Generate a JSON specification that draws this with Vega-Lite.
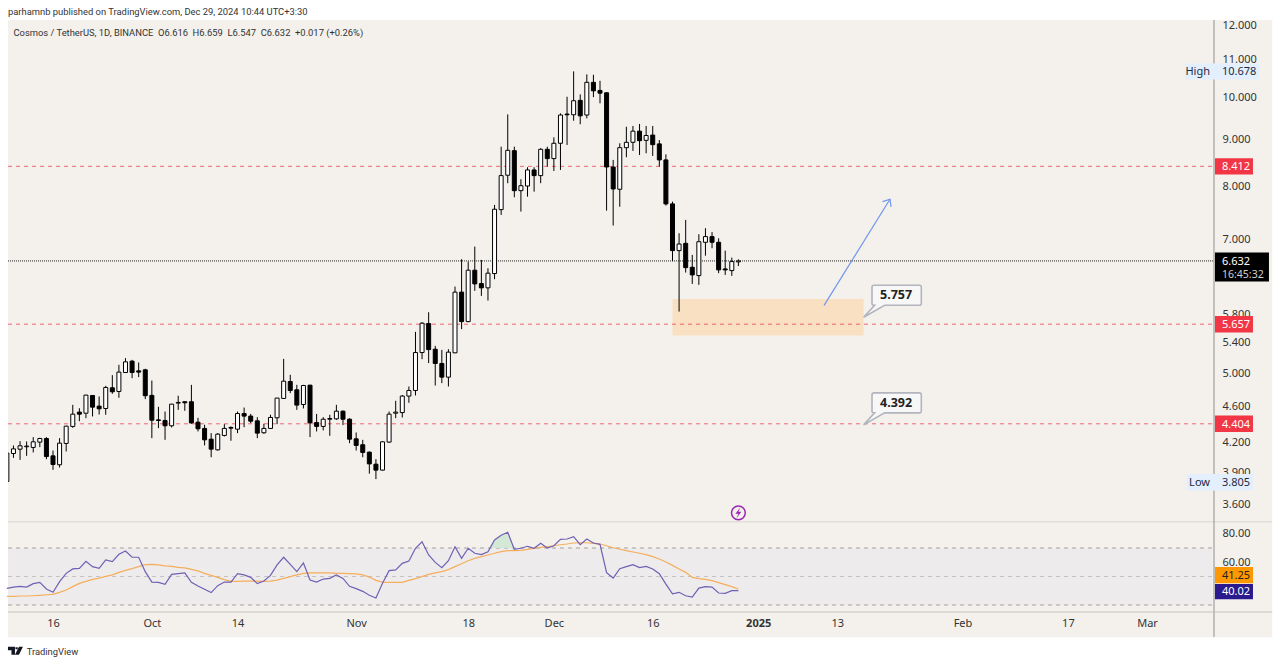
{
"$schema":"https://vega.github.io/schema/vega-lite/v6.json",
"width":1280,"height":665,"padding":0,"autosize":"none","background":"#f4f1ed",
"config":{"font":"Noto Sans","view":{"stroke":null}},
"datasets":{
"candles":[
{"date":"2024-09-09","o":3.81,"h":4.098,"l":3.81,"c":4.091,"rsi":41.7,"ma":36.1},
{"date":"2024-09-10","o":4.087,"h":4.17,"l":4.043,"c":4.135,"rsi":42.6,"ma":36.1},
{"date":"2024-09-11","o":4.132,"h":4.216,"l":4.022,"c":4.167,"rsi":43.1,"ma":36.3},
{"date":"2024-09-12","o":4.157,"h":4.213,"l":4.063,"c":4.164,"rsi":42.6,"ma":36.3},
{"date":"2024-09-13","o":4.15,"h":4.259,"l":4.098,"c":4.209,"rsi":45,"ma":36.5},
{"date":"2024-09-14","o":4.206,"h":4.252,"l":4.153,"c":4.244,"rsi":45.9,"ma":36.8},
{"date":"2024-09-15","o":4.244,"h":4.259,"l":4.029,"c":4.056,"rsi":41.2,"ma":37.2},
{"date":"2024-09-16","o":4.063,"h":4.118,"l":3.923,"c":3.976,"rsi":38.9,"ma":37.5},
{"date":"2024-09-17","o":3.973,"h":4.248,"l":3.946,"c":4.195,"rsi":46.4,"ma":38.9},
{"date":"2024-09-18","o":4.192,"h":4.382,"l":4.108,"c":4.378,"rsi":52.2,"ma":40.5},
{"date":"2024-09-19","o":4.375,"h":4.619,"l":4.36,"c":4.512,"rsi":55.3,"ma":42.9},
{"date":"2024-09-20","o":4.535,"h":4.58,"l":4.433,"c":4.512,"rsi":55.7,"ma":45.2},
{"date":"2024-09-21","o":4.523,"h":4.737,"l":4.467,"c":4.733,"rsi":60.6,"ma":46.6},
{"date":"2024-09-22","o":4.729,"h":4.733,"l":4.486,"c":4.592,"rsi":56.9,"ma":48},
{"date":"2024-09-23","o":4.604,"h":4.718,"l":4.508,"c":4.573,"rsi":55.7,"ma":48.9},
{"date":"2024-09-24","o":4.577,"h":4.845,"l":4.505,"c":4.825,"rsi":61.6,"ma":50.1},
{"date":"2024-09-25","o":4.821,"h":4.977,"l":4.749,"c":4.773,"rsi":60.4,"ma":51.1},
{"date":"2024-09-26","o":4.777,"h":5.108,"l":4.702,"c":5.015,"rsi":65.6,"ma":52.9},
{"date":"2024-09-27","o":5.01,"h":5.194,"l":5.005,"c":5.146,"rsi":67.9,"ma":54.3},
{"date":"2024-09-28","o":5.155,"h":5.172,"l":4.939,"c":5.01,"rsi":63.5,"ma":55.5},
{"date":"2024-09-29","o":5.031,"h":5.138,"l":4.952,"c":5.015,"rsi":63.5,"ma":56.9},
{"date":"2024-09-30","o":5.044,"h":5.057,"l":4.686,"c":4.726,"rsi":53.4,"ma":58.3},
{"date":"2024-10-01","o":4.73,"h":4.91,"l":4.248,"c":4.444,"rsi":46.1,"ma":58.5},
{"date":"2024-10-02","o":4.448,"h":4.596,"l":4.356,"c":4.441,"rsi":45.9,"ma":58.1},
{"date":"2024-10-03","o":4.441,"h":4.542,"l":4.23,"c":4.382,"rsi":44.5,"ma":57.4},
{"date":"2024-10-04","o":4.382,"h":4.631,"l":4.364,"c":4.627,"rsi":51.5,"ma":57.1},
{"date":"2024-10-05","o":4.639,"h":4.726,"l":4.561,"c":4.647,"rsi":52,"ma":56.4},
{"date":"2024-10-06","o":4.655,"h":4.658,"l":4.55,"c":4.643,"rsi":52.5,"ma":56},
{"date":"2024-10-07","o":4.655,"h":4.857,"l":4.404,"c":4.414,"rsi":45.9,"ma":55},
{"date":"2024-10-08","o":4.422,"h":4.471,"l":4.32,"c":4.349,"rsi":43.3,"ma":53.9},
{"date":"2024-10-09","o":4.353,"h":4.393,"l":4.171,"c":4.23,"rsi":41,"ma":52.2},
{"date":"2024-10-10","o":4.237,"h":4.302,"l":4.049,"c":4.132,"rsi":38.7,"ma":50.8},
{"date":"2024-10-11","o":4.125,"h":4.302,"l":4.118,"c":4.291,"rsi":43.6,"ma":49.4},
{"date":"2024-10-12","o":4.277,"h":4.4,"l":4.266,"c":4.353,"rsi":46.1,"ma":47.8},
{"date":"2024-10-13","o":4.364,"h":4.375,"l":4.22,"c":4.356,"rsi":46.1,"ma":46.6},
{"date":"2024-10-14","o":4.345,"h":4.542,"l":4.302,"c":4.519,"rsi":52,"ma":46.6},
{"date":"2024-10-15","o":4.519,"h":4.588,"l":4.367,"c":4.49,"rsi":51.1,"ma":46.8},
{"date":"2024-10-16","o":4.49,"h":4.515,"l":4.411,"c":4.433,"rsi":49.4,"ma":46.8},
{"date":"2024-10-17","o":4.437,"h":4.478,"l":4.248,"c":4.302,"rsi":45,"ma":46.8},
{"date":"2024-10-18","o":4.306,"h":4.404,"l":4.295,"c":4.353,"rsi":46.8,"ma":46.6},
{"date":"2024-10-19","o":4.353,"h":4.505,"l":4.349,"c":4.475,"rsi":50.8,"ma":46.8},
{"date":"2024-10-20","o":4.471,"h":4.698,"l":4.4,"c":4.698,"rsi":58.1,"ma":47.5},
{"date":"2024-10-21","o":4.694,"h":5.185,"l":4.69,"c":4.902,"rsi":63.5,"ma":48.7},
{"date":"2024-10-22","o":4.898,"h":4.981,"l":4.757,"c":4.789,"rsi":58.5,"ma":49.9},
{"date":"2024-10-23","o":4.797,"h":4.857,"l":4.561,"c":4.616,"rsi":53.4,"ma":51.1},
{"date":"2024-10-24","o":4.623,"h":4.857,"l":4.577,"c":4.849,"rsi":59.5,"ma":52.2},
{"date":"2024-10-25","o":4.853,"h":4.857,"l":4.259,"c":4.414,"rsi":47.5,"ma":52.5},
{"date":"2024-10-26","o":4.418,"h":4.515,"l":4.32,"c":4.375,"rsi":46.1,"ma":52.5},
{"date":"2024-10-27","o":4.375,"h":4.478,"l":4.331,"c":4.455,"rsi":48.2,"ma":52.5},
{"date":"2024-10-28","o":4.455,"h":4.505,"l":4.273,"c":4.463,"rsi":48.7,"ma":52.5},
{"date":"2024-10-29","o":4.459,"h":4.619,"l":4.448,"c":4.546,"rsi":51.1,"ma":52.2},
{"date":"2024-10-30","o":4.546,"h":4.554,"l":4.389,"c":4.455,"rsi":48.7,"ma":52.2},
{"date":"2024-10-31","o":4.455,"h":4.467,"l":4.195,"c":4.237,"rsi":43.1,"ma":52},
{"date":"2024-11-01","o":4.241,"h":4.309,"l":4.118,"c":4.171,"rsi":41.5,"ma":51.8},
{"date":"2024-11-02","o":4.178,"h":4.23,"l":4.049,"c":4.098,"rsi":39.6,"ma":51.1},
{"date":"2024-11-03","o":4.101,"h":4.108,"l":3.885,"c":3.982,"rsi":36.8,"ma":49.6},
{"date":"2024-11-04","o":3.979,"h":4.029,"l":3.832,"c":3.92,"rsi":34.9,"ma":47.3},
{"date":"2024-11-05","o":3.92,"h":4.213,"l":3.915,"c":4.209,"rsi":45.2,"ma":46.1},
{"date":"2024-11-06","o":4.206,"h":4.542,"l":4.2,"c":4.512,"rsi":54.1,"ma":45.9},
{"date":"2024-11-07","o":4.523,"h":4.666,"l":4.467,"c":4.535,"rsi":54.6,"ma":45.9},
{"date":"2024-11-08","o":4.53,"h":4.735,"l":4.474,"c":4.722,"rsi":59.2,"ma":45.9},
{"date":"2024-11-09","o":4.722,"h":4.837,"l":4.643,"c":4.789,"rsi":60.9,"ma":47.3},
{"date":"2024-11-10","o":4.789,"h":5.549,"l":4.729,"c":5.268,"rsi":69.8,"ma":48.5},
{"date":"2024-11-11","o":5.268,"h":5.686,"l":5.181,"c":5.671,"rsi":74.4,"ma":49.9},
{"date":"2024-11-12","o":5.666,"h":5.83,"l":5.13,"c":5.307,"rsi":65.1,"ma":51.5},
{"date":"2024-11-13","o":5.312,"h":5.357,"l":4.849,"c":5.125,"rsi":59.9,"ma":52.5},
{"date":"2024-11-14","o":5.125,"h":5.303,"l":4.878,"c":4.952,"rsi":56.2,"ma":53.4},
{"date":"2024-11-15","o":4.952,"h":5.312,"l":4.837,"c":5.273,"rsi":61.1,"ma":54.8},
{"date":"2024-11-16","o":5.264,"h":6.218,"l":5.26,"c":6.132,"rsi":70.9,"ma":56.9},
{"date":"2024-11-17","o":6.132,"h":6.661,"l":5.587,"c":5.694,"rsi":62.7,"ma":59},
{"date":"2024-11-18","o":5.694,"h":6.621,"l":5.686,"c":6.479,"rsi":69.8,"ma":61.1},
{"date":"2024-11-19","o":6.479,"h":6.875,"l":6.152,"c":6.26,"rsi":66.3,"ma":62.7},
{"date":"2024-11-20","o":6.265,"h":6.649,"l":6.074,"c":6.198,"rsi":65.4,"ma":63.9},
{"date":"2024-11-21","o":6.198,"h":6.511,"l":6.003,"c":6.431,"rsi":67.4,"ma":65.1},
{"date":"2024-11-22","o":6.425,"h":7.635,"l":6.334,"c":7.552,"rsi":75.6,"ma":66.3},
{"date":"2024-11-23","o":7.545,"h":8.838,"l":7.445,"c":8.218,"rsi":78.9,"ma":67.4},
{"date":"2024-11-24","o":8.226,"h":9.585,"l":8.063,"c":8.758,"rsi":81,"ma":68.1},
{"date":"2024-11-25","o":8.75,"h":8.838,"l":7.783,"c":7.913,"rsi":69.1,"ma":68.1},
{"date":"2024-11-26","o":7.913,"h":8.143,"l":7.507,"c":8.012,"rsi":69.8,"ma":68.4},
{"date":"2024-11-27","o":8.006,"h":8.393,"l":7.795,"c":8.336,"rsi":71.2,"ma":69.1},
{"date":"2024-11-28","o":8.336,"h":8.393,"l":7.893,"c":8.218,"rsi":69.8,"ma":69.8},
{"date":"2024-11-29","o":8.218,"h":8.803,"l":8.063,"c":8.78,"rsi":73.3,"ma":70.5},
{"date":"2024-11-30","o":8.78,"h":8.838,"l":8.406,"c":8.577,"rsi":70,"ma":70.9},
{"date":"2024-12-01","o":8.577,"h":9.048,"l":8.315,"c":8.914,"rsi":71.6,"ma":71.6},
{"date":"2024-12-02","o":8.914,"h":9.61,"l":8.336,"c":9.57,"rsi":76.1,"ma":72.3},
{"date":"2024-12-03","o":9.593,"h":10.02,"l":8.876,"c":9.576,"rsi":76.3,"ma":72.8},
{"date":"2024-12-04","o":9.576,"h":10.68,"l":9.434,"c":9.92,"rsi":78,"ma":73.5},
{"date":"2024-12-05","o":9.93,"h":10.08,"l":9.35,"c":9.55,"rsi":72.3,"ma":73.7},
{"date":"2024-12-06","o":9.57,"h":10.6,"l":9.49,"c":10.39,"rsi":76.3,"ma":73.7},
{"date":"2024-12-07","o":10.39,"h":10.59,"l":10.01,"c":10.17,"rsi":73.5,"ma":73.3},
{"date":"2024-12-08","o":10.18,"h":10.43,"l":9.855,"c":10.11,"rsi":72.6,"ma":72.8},
{"date":"2024-12-09","o":10.12,"h":10.13,"l":7.526,"c":8.398,"rsi":52.7,"ma":71.6},
{"date":"2024-12-10","o":8.398,"h":8.549,"l":7.25,"c":7.947,"rsi":48.9,"ma":70.2},
{"date":"2024-12-11","o":7.941,"h":8.914,"l":7.6,"c":8.816,"rsi":55.5,"ma":69.1},
{"date":"2024-12-12","o":8.816,"h":9.293,"l":8.606,"c":8.936,"rsi":56.9,"ma":68.1},
{"date":"2024-12-13","o":8.936,"h":9.31,"l":8.745,"c":9.19,"rsi":58.3,"ma":67.2},
{"date":"2024-12-14","o":9.19,"h":9.357,"l":8.656,"c":8.972,"rsi":56.2,"ma":66.3},
{"date":"2024-12-15","o":8.98,"h":9.31,"l":8.693,"c":9.09,"rsi":57.1,"ma":65.4},
{"date":"2024-12-16","o":9.1,"h":9.31,"l":8.635,"c":8.883,"rsi":55.3,"ma":63.9},
{"date":"2024-12-17","o":8.9,"h":8.988,"l":8.406,"c":8.549,"rsi":52,"ma":62.3},
{"date":"2024-12-18","o":8.549,"h":8.67,"l":7.622,"c":7.654,"rsi":44.7,"ma":60.2},
{"date":"2024-12-19","o":7.654,"h":7.698,"l":6.628,"c":6.806,"rsi":37.9,"ma":57.8},
{"date":"2024-12-20","o":6.806,"h":7.11,"l":5.839,"c":6.92,"rsi":38.9,"ma":55.3},
{"date":"2024-12-21","o":6.932,"h":7.352,"l":6.441,"c":6.521,"rsi":36.5,"ma":52.9},
{"date":"2024-12-22","o":6.527,"h":6.733,"l":6.26,"c":6.403,"rsi":35.6,"ma":49.4},
{"date":"2024-12-23","o":6.392,"h":7.093,"l":6.245,"c":6.96,"rsi":41.9,"ma":48.5},
{"date":"2024-12-24","o":6.95,"h":7.2,"l":6.72,"c":7.05,"rsi":42.9,"ma":48},
{"date":"2024-12-25","o":7.05,"h":7.13,"l":6.847,"c":6.95,"rsi":42.6,"ma":47.1},
{"date":"2024-12-26","o":6.95,"h":7.02,"l":6.431,"c":6.484,"rsi":38.4,"ma":45.7},
{"date":"2024-12-27","o":6.5,"h":6.806,"l":6.403,"c":6.484,"rsi":38.2,"ma":44.3},
{"date":"2024-12-28","o":6.473,"h":6.688,"l":6.387,"c":6.621,"rsi":40.1,"ma":42.9},
{"date":"2024-12-29","o":6.616,"h":6.659,"l":6.547,"c":6.632,"rsi":40.02,"ma":41.25}
],
"zone":[{"date":"2024-12-19","date2":"2025-01-17","p0":5.498,"p1":6.028}],
"levels":[
{"date":"2024-09-09T04:00:00Z","date2":"2025-03-11T04:00:00Z","price":8.412},
{"date":"2024-09-09T04:00:00Z","date2":"2025-03-11T04:00:00Z","price":5.657},
{"date":"2024-09-09T04:00:00Z","date2":"2025-03-11T04:00:00Z","price":4.404}],
"last":[{"date":"2024-09-09T04:00:00Z","date2":"2025-03-11T04:00:00Z","price":6.632}],
"arrow":[{"date":"2025-01-11","price":5.93},{"date":"2025-01-21","price":7.745}],
"arrowTip":[{"date":"2025-01-21","price":7.745}],
"callouts":[{"date":"2025-01-17","price":5.757,"label":"5.757"},{"date":"2025-01-17","price":4.392,"label":"4.392"}],
"event":[{"date":"2024-12-29","price":3.521}],
"separators":[{"date":"2024-09-09T04:00:00Z","date2":"2025-03-20T00:00:00Z","price":3.442}],
"axisLine":[{"date":"2025-03-11T04:00:00Z","p0":12.15,"p1":2.575}],
"margins":[
{"date":"2024-09-01","date2":"2025-03-31","p0":13.5,"p1":12.15},
{"date":"2024-09-01","date2":"2025-03-31","p0":2.575,"p1":2.2},
{"date":"2024-09-01","date2":"2024-09-09T04:00:00Z","p0":2.2,"p1":13.5},
{"date":"2025-03-20T00:00:00Z","date2":"2025-03-31","p0":2.2,"p1":13.5}],
"notes":[
{"date":"2024-09-09T04:00:00Z","price":12.43,"text":"parhamnb published on TradingView.com, Dec 29, 2024 10:44 UTC+3:30"},
{"date":"2024-09-10","price":11.79,"text":"Cosmos / TetherUS, 1D, BINANCE\u00a0\u00a0O6.616\u00a0\u00a0H6.659\u00a0\u00a0L6.547\u00a0\u00a0C6.632\u00a0\u00a0+0.017 (+0.26%)"},
{"date":"2024-09-12","price":2.49,"text":"TradingView"}],
"logo":[{"date":"2024-09-10","price":2.49}],
"badgesPrice":[
{"date":"2025-03-14","price":10.678,"kind":"high","label":"10.678","side":"High"},
{"date":"2025-03-14","price":8.412,"kind":"red","label":"8.412"},
{"date":"2025-03-14","price":6.632,"kind":"black","label":"6.632","countdown":"16:45:32"},
{"date":"2025-03-14","price":5.657,"kind":"red","label":"5.657"},
{"date":"2025-03-14","price":4.404,"kind":"red","label":"4.404"},
{"date":"2025-03-14","price":3.805,"kind":"low","label":"3.805","side":"Low"}],
"badgesRsi":[
{"date":"2025-03-14","rsi":41.25,"kind":"orange","label":"41.25"},
{"date":"2025-03-14","rsi":40.02,"kind":"navy","label":"40.02"}],
"band":[{"date":"2024-09-09T04:00:00Z","date2":"2025-03-10T21:00:00Z","r0":30,"r1":70}],
"rsiLevels":[
{"date":"2024-09-09T04:00:00Z","date2":"2025-03-10T21:00:00Z","rsi":70,"tone":"a"},
{"date":"2024-09-09T04:00:00Z","date2":"2025-03-10T21:00:00Z","rsi":50,"tone":"b"},
{"date":"2024-09-09T04:00:00Z","date2":"2025-03-10T21:00:00Z","rsi":30,"tone":"a"}],
"rsiFloor":[{"date":"2024-09-09T04:00:00Z","date2":"2025-03-20T00:00:00Z","rsi":25.1}],
"overbought":[
{"date":"2024-11-21T07:30:00Z","rsi":70,"base":70},
{"date":"2024-11-22","rsi":75.6,"base":70},
{"date":"2024-11-23","rsi":78.9,"base":70},
{"date":"2024-11-24","rsi":81,"base":70},
{"date":"2024-11-24T22:00:00Z","rsi":70,"base":70}]
},
"encoding":{"x":{"field":"date","type":"temporal","title":null,
"scale":{"type":"utc","padding":0,"domain":[{"year":2024,"month":9,"date":16,"utc":true},{"year":2025,"month":3,"date":1,"utc":true}],"range":[53,1147]},
"axis":{"orient":"bottom","offset":-53,"domain":false,"ticks":false,"grid":false,"title":null,"labelPadding":5,"labelFontSize":11,"labelColor":"#333333","labelOverlap":false,"labelBound":false,"labelFlush":false,
"values":[{"year":2024,"month":9,"date":16,"utc":true},{"year":2024,"month":10,"date":1,"utc":true},{"year":2024,"month":10,"date":14,"utc":true},{"year":2024,"month":11,"date":1,"utc":true},{"year":2024,"month":11,"date":18,"utc":true},{"year":2024,"month":12,"date":1,"utc":true},{"year":2024,"month":12,"date":16,"utc":true},{"year":2025,"month":1,"date":1,"utc":true},{"year":2025,"month":1,"date":13,"utc":true},{"year":2025,"month":2,"date":1,"utc":true},{"year":2025,"month":2,"date":17,"utc":true},{"year":2025,"month":3,"date":1,"utc":true}],
"labelExpr":"utcdate(datum.value)==1 ? (utcmonth(datum.value)==0 ? utcFormat(datum.value,'%Y') : utcFormat(datum.value,'%b')) : utcFormat(datum.value,'%-d')",
"labelFontWeight":{"condition":{"test":"utcdate(datum.value)==1 && utcmonth(datum.value)==0","value":"bold"},"value":"normal"}}}},
"layer":[
{"layer":[
{"data":{"name":"zone","format":{"parse":{"date":"date","date2":"date"}}},"mark":{"type":"rect","color":"#f9e0c2"},
"encoding":{"x2":{"field":"date2"},
"y":{"field":"p0","type":"quantitative","title":null,
"scale":{"type":"log","domain":[3.6,12],"range":[504,25],"nice":false,"zero":false},
"axis":{"orient":"right","offset":-66,"domain":false,"ticks":false,"grid":false,"title":null,"labelPadding":8,"labelFontSize":11,"labelColor":"#333333","labelOverlap":false,"labelBound":false,"labelFlush":false,"format":".3f","values":[3.6,3.9,4.2,4.6,5,5.4,5.8,7,8,9,10,11,12]}},
"y2":{"field":"p1"}}},
{"data":{"name":"levels","format":{"parse":{"date":"date","date2":"date"}}},"mark":{"type":"rule","color":"#f23645","opacity":0.75,"strokeWidth":1,"strokeDash":[4,4]},
"encoding":{"x2":{"field":"date2"},"y":{"field":"price","type":"quantitative"}}},
{"data":{"name":"last","format":{"parse":{"date":"date","date2":"date"}}},"mark":{"type":"rule","color":"#222222","strokeWidth":1,"strokeDash":[1,1]},
"encoding":{"x2":{"field":"date2"},"y":{"field":"price","type":"quantitative"}}},
{"data":{"name":"separators","format":{"parse":{"date":"date","date2":"date"}}},"mark":{"type":"rule","color":"#d8d5d1","strokeWidth":1},
"encoding":{"x2":{"field":"date2"},"y":{"field":"price","type":"quantitative"}}},
{"data":{"name":"candles"},"mark":{"type":"rule","color":"#000000","strokeWidth":1},
"encoding":{"y":{"field":"l","type":"quantitative"},"y2":{"field":"h"}}},
{"data":{"name":"candles"},"mark":{"type":"bar","width":4,"stroke":"#000000","strokeWidth":1},
"encoding":{"y":{"field":"o","type":"quantitative"},"y2":{"field":"c"},
"fill":{"condition":{"test":"datum.c>=datum.o","value":"#ffffff"},"value":"#000000"}}},
{"data":{"name":"arrow"},"mark":{"type":"line","color":"#6f96ee","strokeWidth":1.2},
"encoding":{"y":{"field":"price","type":"quantitative"}}},
{"data":{"name":"arrowTip"},"mark":{"type":"point","shape":"M-1,1.2L0,0L1,1.2","filled":false,"size":100,"angle":32,"color":"#6f96ee","strokeWidth":1.2,"opacity":1},
"encoding":{"y":{"field":"price","type":"quantitative"}}},
{"data":{"name":"callouts"},"mark":{"type":"point","shape":"M1.04,-3.2H5.57Q5.77,-3.2 5.77,-3V-1.4Q5.77,-1.2 5.57,-1.2H2.1L0,0L1.1,-1.2H1.04Q0.84,-1.2 0.84,-1.4V-3Q0.84,-3.2 1.04,-3.2Z","filled":true,"size":400,"fill":"#f7f7f7","stroke":"#b2b5be","strokeWidth":1.6,"opacity":1},
"encoding":{"y":{"field":"price","type":"quantitative"}}},
{"data":{"name":"callouts"},"mark":{"type":"text","align":"center","baseline":"middle","dx":32.5,"dy":-22,"fontSize":12.5,"fontWeight":"bold","color":"#222222"},
"encoding":{"y":{"field":"price","type":"quantitative"},"text":{"field":"label"}}},
{"data":{"name":"event"},"mark":{"type":"point","shape":"circle","filled":false,"size":190,"color":"#9c27b0","strokeWidth":1.5,"opacity":1},
"encoding":{"y":{"field":"price","type":"quantitative"}}},
{"data":{"name":"event"},"mark":{"type":"point","shape":"M0.2,-0.55L-0.3,0.1H0L-0.2,0.55L0.3,-0.1H0Z","filled":true,"size":400,"color":"#9c27b0","opacity":1},
"encoding":{"y":{"field":"price","type":"quantitative"}}},
{"data":{"name":"axisLine","format":{"parse":{"date":"date"}}},"mark":{"type":"rule","color":"#8f8f8f","strokeWidth":1},
"encoding":{"y":{"field":"p0","type":"quantitative"},"y2":{"field":"p1"}}},
{"data":{"name":"margins","format":{"parse":{"date":"date","date2":"date"}}},"mark":{"type":"rect","color":"#ffffff"},
"encoding":{"x2":{"field":"date2"},"y":{"field":"p0","type":"quantitative"},"y2":{"field":"p1"}}},
{"data":{"name":"notes"},"mark":{"type":"text","align":"left","baseline":"middle","fontSize":9.4,"dy":1,"font":"Roboto","color":"#333333"},
"encoding":{"y":{"field":"price","type":"quantitative"},"text":{"field":"text"}}},
{"data":{"name":"logo"},"mark":{"type":"point","shape":"M-0.55,-0.4H0.15V0.4H-0.2V-0.05H-0.55ZM0.2,-0.35H0.42V-0.13H0.2ZM0.55,-0.4H0.95L0.55,0.4H0.15Z","filled":true,"size":400,"color":"#131722","opacity":1},
"encoding":{"y":{"field":"price","type":"quantitative"}}},
{"data":{"name":"badgesPrice"},"mark":{"type":"point","filled":true,"size":400,"strokeWidth":0,"opacity":1},
"encoding":{"y":{"field":"price","type":"quantitative"},
"color":{"field":"kind","type":"nominal","legend":null,"scale":{"domain":["high","low","red","black","orange","navy"],"range":["#e3effd","#e3effd","#f23645","#000000","#ff9800","#2a1a8e"]}},
"shape":{"field":"kind","type":"nominal","legend":null,"scale":{"domain":["high","low","red","black","orange","navy"],"range":["M-4.77,-0.8H2.63V0.8H-4.77Z","M-4.6,-0.8H2.03V0.85H-4.6Z","M-1.77,-0.82H2.03V0.82H-1.77Z","M-1.77,-0.83H3.63V2.07H-1.77Z","M-1.77,-2.2H2.03V-0.57H-1.77Z","M-1.77,-0.67H2.03V0.86H-1.77Z"]}}}},
{"data":{"name":"badgesPrice"},"mark":{"type":"text","align":"left","baseline":"middle","dx":-10.7,"dy":1,"fontSize":11},
"encoding":{"y":{"field":"price","type":"quantitative"},"text":{"field":"label"},
"color":{"condition":{"test":"datum.kind=='high'||datum.kind=='low'","value":"#1e2a44"},"value":"#ffffff"}}},
{"data":{"name":"badgesPrice"},"transform":[{"filter":"datum.side!=null"}],"mark":{"type":"text","align":"right","baseline":"middle","dx":-22.7,"dy":1,"fontSize":11,"color":"#1e2a44"},
"encoding":{"y":{"field":"price","type":"quantitative"},"text":{"field":"side"}}},
{"data":{"name":"badgesPrice"},"transform":[{"filter":"datum.countdown!=null"}],"mark":{"type":"text","align":"left","baseline":"middle","dx":-10.7,"dy":14,"fontSize":10.5,"color":"#d0d0d0"},
"encoding":{"y":{"field":"price","type":"quantitative"},"text":{"field":"countdown"}}}
]},
{"layer":[
{"data":{"name":"band","format":{"parse":{"date":"date","date2":"date"}}},"mark":{"type":"rect","color":"#eeebec"},
"encoding":{"x2":{"field":"date2"},
"y":{"field":"r0","type":"quantitative","title":null,
"scale":{"type":"linear","domain":[30,80],"range":[605,533.75],"nice":false,"zero":false},
"axis":{"orient":"right","offset":-66,"domain":false,"ticks":false,"grid":false,"title":null,"labelPadding":8,"labelFontSize":11,"labelColor":"#333333","labelOverlap":false,"labelBound":false,"labelFlush":false,"format":".2f","values":[60,80]}},
"y2":{"field":"r1"}}},
{"data":{"name":"rsiFloor","format":{"parse":{"date":"date","date2":"date"}}},"mark":{"type":"rule","color":"#c4c1bd","strokeWidth":1.2},
"encoding":{"x2":{"field":"date2"},"y":{"field":"rsi","type":"quantitative"}}},
{"data":{"name":"rsiLevels","format":{"parse":{"date":"date","date2":"date"}}},"mark":{"type":"rule","strokeWidth":1,"strokeDash":[4,4]},
"encoding":{"x2":{"field":"date2"},"y":{"field":"rsi","type":"quantitative"},
"color":{"condition":{"test":"datum.tone=='b'","value":"#c4c2c2"},"value":"#a3a1a1"}}},
{"data":{"name":"overbought"},"mark":{"type":"area","color":"#cfe8d2","opacity":0.9},
"encoding":{"y":{"field":"rsi","type":"quantitative"},"y2":{"field":"base"}}},
{"data":{"name":"candles"},"mark":{"type":"line","color":"#f5ae5c","strokeWidth":1.2},
"encoding":{"y":{"field":"ma","type":"quantitative"}}},
{"data":{"name":"candles"},"mark":{"type":"line","color":"#6f60b3","strokeWidth":1.2},
"encoding":{"y":{"field":"rsi","type":"quantitative"}}},
{"data":{"name":"badgesRsi"},"mark":{"type":"point","filled":true,"size":400,"strokeWidth":0,"opacity":1},
"encoding":{"y":{"field":"rsi","type":"quantitative"},
"color":{"field":"kind","type":"nominal","legend":null,"scale":{"domain":["high","low","red","black","orange","navy"],"range":["#e3effd","#e3effd","#f23645","#000000","#ff9800","#2a1a8e"]}},
"shape":{"field":"kind","type":"nominal","legend":null,"scale":{"domain":["high","low","red","black","orange","navy"],"range":["M-4.77,-0.8H2.63V0.8H-4.77Z","M-4.6,-0.8H2.03V0.85H-4.6Z","M-1.77,-0.82H2.03V0.82H-1.77Z","M-1.77,-0.83H3.63V2.07H-1.77Z","M-1.77,-2.2H2.03V-0.57H-1.77Z","M-1.77,-0.67H2.03V0.86H-1.77Z"]}}}},
{"data":{"name":"badgesRsi"},"transform":[{"filter":"datum.kind=='orange'"}],"mark":{"type":"text","align":"left","baseline":"middle","dx":-10.7,"dy":-13,"fontSize":11,"color":"#222222"},
"encoding":{"y":{"field":"rsi","type":"quantitative"},"text":{"field":"label"}}},
{"data":{"name":"badgesRsi"},"transform":[{"filter":"datum.kind=='navy'"}],"mark":{"type":"text","align":"left","baseline":"middle","dx":-10.7,"dy":1,"fontSize":11,"color":"#ffffff"},
"encoding":{"y":{"field":"rsi","type":"quantitative"},"text":{"field":"label"}}}
]}
],
"resolve":{"scale":{"y":"independent"}}
}
